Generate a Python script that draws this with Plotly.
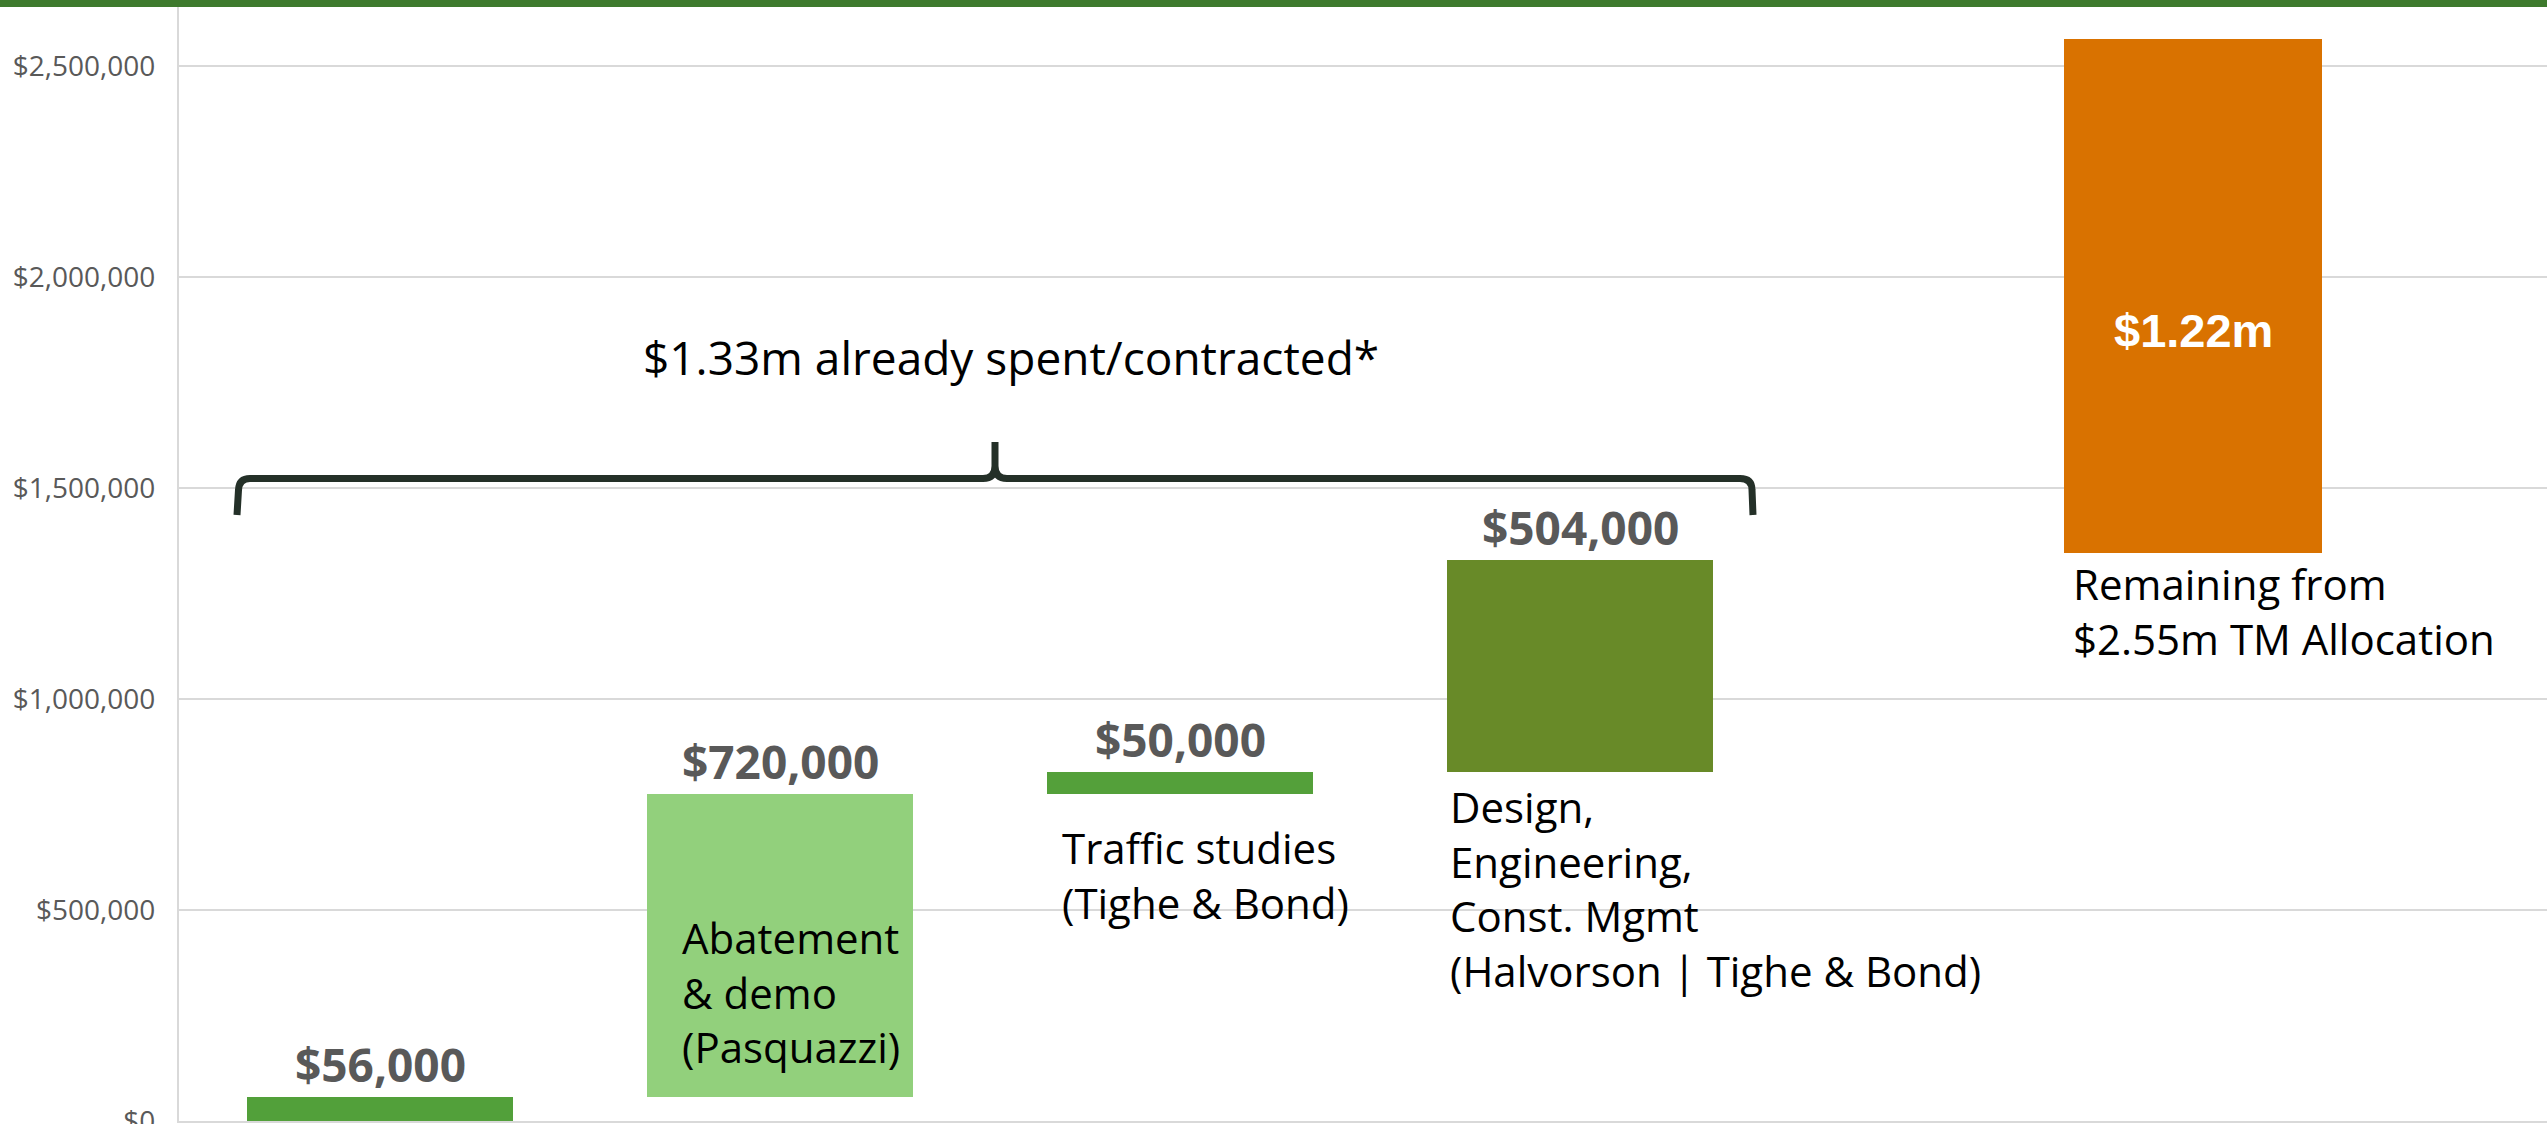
import plotly.graph_objects as go

# ---------------- data ----------------
spent_items = ["Site work", "Abatement & demo", "Traffic studies", "Design / Eng. / CM"]
spent_values = [56000, 720000, 50000, 504000]
spent_value_labels = ["$56,000", "$720,000", "$50,000", "$504,000"]
spent_colors = ["#52A03A", "#92D07C", "#54A03A", "#688A28"]

remaining_value = 1220000
remaining_base = 1345000
remaining_label = "$1.22m"

bracket_text = "$1.33m already spent/contracted*"

tick_vals = [0, 500000, 1000000, 1500000, 2000000, 2500000]
tick_text = ["$0", "$500,000", "$1,000,000", "$1,500,000", "$2,000,000", "$2,500,000"]

# running bases (waterfall)
bases = []
run = 0
for v in spent_values:
    bases.append(run)
    run += v
tops = [b + v for b, v in zip(bases, spent_values)]
xs = list(range(len(spent_values)))

W, H = 2547, 1124
font_main = "Open Sans"
grey = "#595959"

fig = go.Figure()

fig.add_trace(go.Bar(
    x=xs, y=spent_values, base=bases, width=0.665,
    marker=dict(color=spent_colors, line=dict(width=0)),
    hoverinfo="skip", showlegend=False,
))
fig.add_trace(go.Bar(
    x=[len(spent_values)], y=[remaining_value], base=[remaining_base],
    width=0.645, offset=0.21,
    marker=dict(color="#D97200", line=dict(width=0)),
    hoverinfo="skip", showlegend=False,
))

ann = []
# value labels above spent bars
for x, t, lab in zip(xs, tops, spent_value_labels):
    ann.append(dict(x=x, y=t, xref="x", yref="y", text=lab, showarrow=False,
                    xanchor="center", yanchor="bottom", yshift=0,
                    font=dict(family=font_main, size=46, color=grey, weight="bold")))

# category labels
cat_labels = [
    dict(x=1, xshift=-100, y=507000, text="Abatement<br>& demo<br>(Pasquazzi)"),
    dict(x=2, xshift=-120, y=720000, text="Traffic studies<br>(Tighe &amp; Bond)"),
    dict(x=3, xshift=-132, y=817000, text="Design,<br>Engineering,<br>Const. Mgmt<br>(Halvorson | Tighe &amp; Bond)"),
    dict(x=4, xshift=91, y=1345000, text="Remaining from<br>$2.55m TM Allocation"),
]
for c in cat_labels:
    ann.append(dict(x=c["x"], y=c["y"], xref="x", yref="y", text=c["text"],
                    showarrow=False, xanchor="left", yanchor="top", xshift=c["xshift"],
                    align="left", font=dict(family=font_main, size=42, color="#000000")))

# remaining value label inside orange bar
ann.append(dict(x=4.5325, y=1873000, xref="x", yref="y", text=remaining_label,
                showarrow=False, xanchor="center", yanchor="middle",
                font=dict(family="Liberation Sans", size=47, color="#FFFFFF", weight="bold")))

# bracket caption
ann.append(dict(x=1.5775, y=1810000, xref="x", yref="y", text=bracket_text,
                showarrow=False, xanchor="center", yanchor="middle",
                font=dict(family=font_main, size=46, color="#000000")))

shapes = [
    # top green band
    dict(type="rect", xref="paper", yref="paper", x0=-0.08, x1=1.0,
         y0=1 - 7 / 1121, y1=1.0, fillcolor="#3E7A2D", line=dict(width=0), layer="above"),
    # curly bracket
    dict(type="path", xref="x", yref="y", layer="above",
         path=("M -0.3575,1436020 L -0.35375,1495262 Q -0.3525,1522513 -0.325,1522513 "
               "L 1.5075,1522513 Q 1.5375,1522513 1.5375,1552134 L 1.5375,1609007 "
               "L 1.5375,1552134 Q 1.5375,1522513 1.5675,1522513 L 3.4,1522513 "
               "Q 3.43,1522513 3.43,1495262 L 3.4325,1436020"),
         line=dict(color="#243028", width=7)),
]

fig.update_layout(
    width=W, height=H,
    margin=dict(l=179, r=0, t=0, b=3, pad=0, autoexpand=False),
    paper_bgcolor="#FFFFFF", plot_bgcolor="#FFFFFF",
    annotations=ann, shapes=shapes, bargap=0,
    xaxis=dict(range=[-0.5025, 5.4175], showticklabels=False, showgrid=False,
               zeroline=False, showline=True, linecolor="#D9D9D9", linewidth=2,
               ticks="", automargin=False),
    yaxis=dict(range=[0, 2656400], tickvals=tick_vals, ticktext=tick_text,
               showgrid=True, gridcolor="#D9D9D9", gridwidth=2, zeroline=False,
               showline=True, linecolor="#D9D9D9", linewidth=2, ticks="",
               ticklabelstandoff=16, ticklabeloverflow="allow", automargin=False,
               tickfont=dict(family=font_main, size=28, color=grey)),
)

fig.write_html("out.html", config={"displayModeBar": False},
               post_script="document.body.style.margin='0';document.body.style.overflow='hidden';")
